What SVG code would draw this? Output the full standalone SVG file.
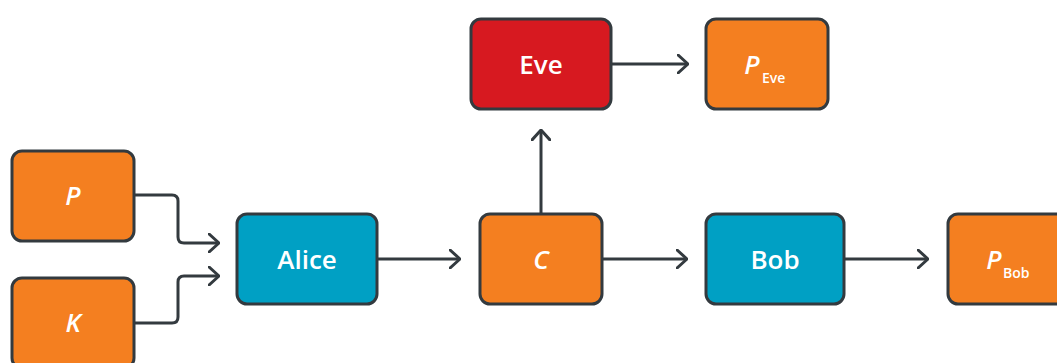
<svg xmlns="http://www.w3.org/2000/svg" width="1057" height="363" viewBox="0 0 1057 363">
<defs>
<marker id="arr" viewBox="0 0 12 20" refX="11" refY="10" markerWidth="12" markerHeight="20" markerUnits="userSpaceOnUse" orient="auto">
<path d="M1,1 L11,10 L1,19" fill="none" stroke="#333a3f" stroke-width="3" stroke-linecap="round" stroke-linejoin="round"/>
</marker>
<style>
.box{stroke:#333a3f;stroke-width:3}
.or{fill:#f47f20}
.bl{fill:#00a0c4}
.rd{fill:#d71920}
.lbl{font-family:"Open Sans","Liberation Sans",sans-serif;font-weight:600;font-size:26px;fill:#ffffff;text-anchor:middle}
.it{font-style:italic}
.sub{font-family:"Open Sans","Liberation Sans",sans-serif;font-weight:600;font-size:14px;fill:#ffffff}
.c{fill:none;stroke:#333a3f;stroke-width:3;marker-end:url(#arr)}
</style>
</defs>
<rect width="1057" height="363" fill="#ffffff"/>
<g id="connectors">
<path class="c" d="M134,195 H172 Q178,195 178,201 V237 Q178,243 184,243 H219"/>
<path class="c" d="M134,323 H172 Q178,323 178,317 V282 Q178,276 184,276 H219"/>
<path class="c" d="M377,259 H460"/>
<path class="c" d="M541,213 V130"/>
<path class="c" d="M611,64 H688"/>
<path class="c" d="M602,259 H687"/>
<path class="c" d="M844,259 H928"/>
</g>
<g id="P"><rect class="box or" x="12" y="151" width="122" height="90" rx="10"/><text class="lbl it" x="73" y="205">P</text></g>
<g id="K"><rect class="box or" x="12" y="278" width="122" height="90" rx="10"/><text class="lbl it" x="73" y="332">K</text></g>
<g id="Alice"><rect class="box bl" x="237" y="214" width="140" height="90" rx="10"/><text class="lbl" x="307" y="269">Alice</text></g>
<g id="C"><rect class="box or" x="480" y="214" width="122" height="90" rx="10"/><text class="lbl it" x="541" y="269">C</text></g>
<g id="Eve"><rect class="box rd" x="471" y="19" width="140" height="90" rx="10"/><text class="lbl" x="541" y="74">Eve</text></g>
<g id="PEve"><rect class="box or" x="706" y="19" width="122" height="90" rx="10"/><text class="lbl it" x="752" y="74">P</text><text class="sub" x="762" y="83">Eve</text></g>
<g id="Bob"><rect class="box bl" x="706" y="214" width="138" height="90" rx="10"/><text class="lbl" x="775" y="269">Bob</text></g>
<g id="PBob"><rect class="box or" x="948" y="214" width="122" height="90" rx="10"/><text class="lbl it" x="994" y="269">P</text><text class="sub" x="1003" y="278">Bob</text></g>
</svg>
